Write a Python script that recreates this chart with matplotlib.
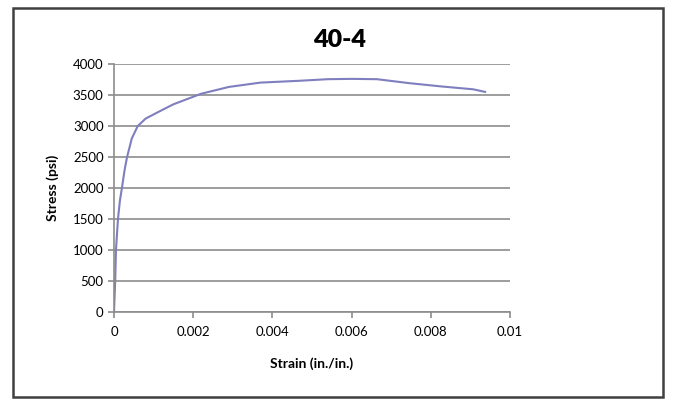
import numpy as np
import matplotlib.pyplot as plt
from matplotlib.patches import Rectangle

# stress-strain readings for specimen 40-4
strain = [0, 0.00003, 0.00005, 0.0001, 0.00015, 0.0002, 0.00027, 0.00033, 0.00045, 0.0006,
          0.0008, 0.0011, 0.0015, 0.0022, 0.0029, 0.0037, 0.0047, 0.0054, 0.0060, 0.00664,
          0.00747, 0.0083, 0.00907, 0.00937]
stress = [0, 500, 1000, 1500, 1800, 2000, 2300, 2500, 2800, 3000,
          3120, 3220, 3350, 3520, 3630, 3700, 3730, 3755, 3760, 3755,
          3690, 3636, 3592, 3550]

xticks = [0, 0.002, 0.004, 0.006, 0.008, 0.01]
xticklabels = ['0', '0.002', '0.004', '0.006', '0.008', '0.01']
yticks = [0, 500, 1000, 1500, 2000, 2500, 3000, 3500, 4000]

plt.rcParams['font.family'] = ['Lato', 'DejaVu Sans']

fig = plt.figure(figsize=(6.73, 3.99), dpi=100)
ax = fig.add_axes([114/673, 1-312/399, (510-114)/673, (312-64)/399])

ax.plot(strain, stress, color='#7f7fbf', linewidth=1.5)

ax.set_xlim(0, 0.01)
ax.set_ylim(0, 4000)
ax.set_xticks(xticks)
ax.set_xticklabels(xticklabels)
ax.set_yticks(yticks)
ax.grid(axis='y', color='#8c8c8c', linewidth=1.2)
ax.set_axisbelow(True)
for s in ['top', 'right']:
    ax.spines[s].set_visible(False)
for s in ['left', 'bottom']:
    ax.spines[s].set_color('#8c8c8c')
    ax.spines[s].set_linewidth(1.2)
ax.tick_params(colors='#8c8c8c', labelcolor='black', labelsize=9.5, length=4, width=1.2)
ax.tick_params(axis='x', pad=6)

ax.set_xlabel('Strain (in./in.)', fontsize=10, fontweight='bold', labelpad=14)
ax.set_ylabel('Stress (psi)', fontsize=10, fontweight='bold', labelpad=10)
fig.text(340/673, 1-40/399, '40-4', ha='center', va='center', fontsize=18, fontweight='heavy')

fig.patches.append(Rectangle((13/673, 2/399), 650/673, 389/399, transform=fig.transFigure,
                             fill=False, edgecolor='#404040', linewidth=1.8))

fig.savefig('out.png', dpi=100)
